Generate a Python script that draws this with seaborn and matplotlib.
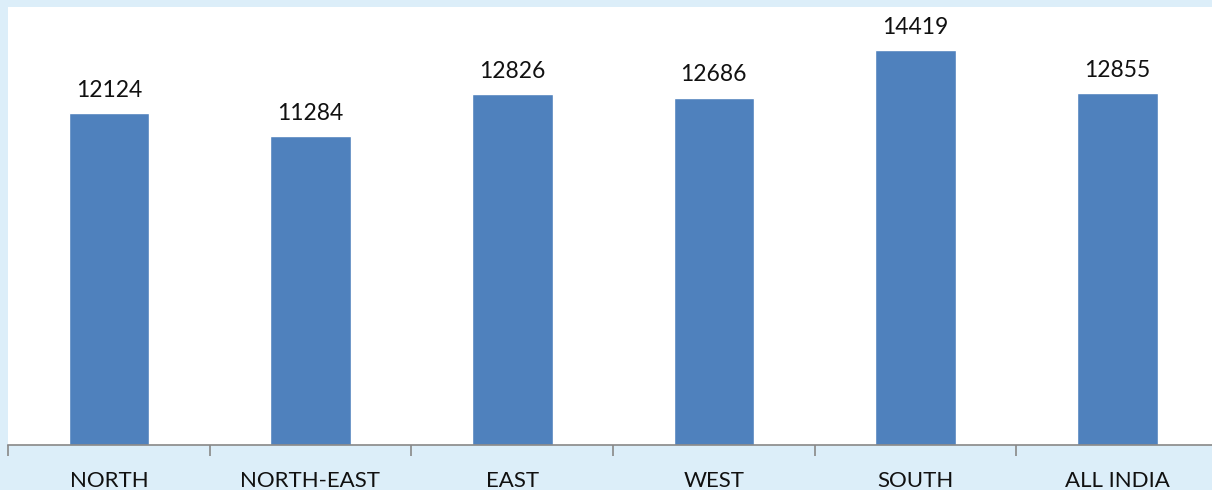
import matplotlib
matplotlib.use("Agg")
import matplotlib.pyplot as plt
import seaborn as sns
import pandas as pd

# ── data ──────────────────────────────────────────────
regions = ["NORTH", "NORTH-EAST", "EAST", "WEST", "SOUTH", "ALL INDIA"]
values = [12124, 11284, 12826, 12686, 14419, 12855]

df = pd.DataFrame({"region": regions, "value": values})

# ── style ─────────────────────────────────────────────
sns.set_style("white")
plt.rcParams["font.family"] = ["Lato", "DejaVu Sans"]

BAR = "#4F81BD"
BG = "#DCEEF9"

fig = plt.figure(figsize=(12.12, 4.9), dpi=100, facecolor=BG)
W, H = 1212, 490
ax = fig.add_axes([8 / W, 45 / H, 1210 / W, 438 / H])
ax.set_facecolor("white")

sns.barplot(data=df, x="region", y="value", color=BAR, width=0.4,
            saturation=1, ax=ax)

ax.set_ylim(0, 16000)
ax.set_xlim(-0.5, len(regions) - 0.5)

for i, v in enumerate(values):
    ax.text(i, v + 450, str(v), ha="center", va="bottom",
            fontsize=16.5, color="#111111")

# ticks between categories, labels centred
ax.set_xticks([i - 0.5 for i in range(len(regions) + 1)])
ax.set_xticklabels([])
ax.tick_params(axis="x", which="major", bottom=True, length=8, width=1.2,
               color="#888888", direction="out")
ax.set_xticks(range(len(regions)), minor=True)
ax.set_xticklabels(regions, minor=True, fontsize=16, color="#111111")
ax.tick_params(axis="x", which="minor", bottom=True, length=0, pad=19)
ax.set_yticks([])
ax.set_xlabel("")
ax.set_ylabel("")

for side in ["top", "right", "left"]:
    ax.spines[side].set_visible(False)
ax.spines["bottom"].set_color("#888888")
ax.spines["bottom"].set_linewidth(1.2)

fig.savefig("out.png", dpi=100, facecolor=BG)
